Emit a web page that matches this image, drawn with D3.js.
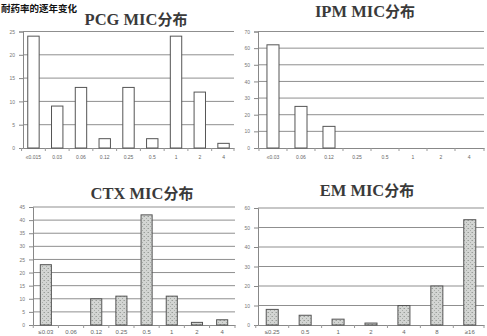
<!DOCTYPE html>
<html><head><meta charset="utf-8">
<script src="https://cdn.jsdelivr.net/npm/d3@7/dist/d3.min.js"></script>
<style>body{margin:0;background:#fff}svg{display:block}</style>
</head><body>
<script>
const headerText = "耐药率的逐年变化";

const pcgCategories = ["≤0.015","0.03","0.06","0.12","0.25","0.5","1","2","4"];
const pcgValues = [24, 9, 13, 2, 13, 2, 24, 12, 1];
const pcgTicks = [0, 5, 10, 15, 20, 25];

const ipmCategories = ["≤0.03","0.06","0.12","0.25","0.5","1","2","4"];
const ipmValues = [62, 25, 13, 0, 0, 0, 0, 0];
const ipmTicks = [0, 10, 20, 30, 40, 50, 60, 70];

const ctxCategories = ["≤0.03","0.06","0.12","0.25","0.5","1","2","4"];
const ctxValues = [23, 0, 10, 11, 42, 11, 1, 2];
const ctxTicks = [0, 5, 10, 15, 20, 25, 30, 35, 40, 45];

const emCategories = ["≤0.25","0.5","1","2","4","8","≥16"];
const emValues = [8, 5, 3, 1, 10, 20, 54];
const emTicks = [0, 10, 20, 30, 40, 50, 60];

const W = 487, H = 336;
const svg = d3.select("body").append("svg").attr("width", W).attr("height", H);

const defs = svg.append("defs");
const pat = defs.append("pattern").attr("id","tex").attr("patternUnits","userSpaceOnUse")
  .attr("width",4).attr("height",4);
pat.append("rect").attr("width",4).attr("height",4).attr("fill","#d3d5d3");
pat.append("rect").attr("x",0).attr("y",0).attr("width",1).attr("height",1).attr("fill","#9a9e9a");
pat.append("rect").attr("x",2).attr("y",2).attr("width",1).attr("height",1).attr("fill","#a8aca8");
pat.append("rect").attr("x",3).attr("y",0).attr("width",1).attr("height",1).attr("fill","#b8bbb8");

svg.append("text").attr("x", 1).attr("y", 11.5)
  .attr("font-family", "'Noto Sans CJK SC', sans-serif").attr("font-weight", "bold")
  .attr("font-size", 9.5).attr("fill", "#111").text(headerText);

const panels = [
  {title:"PCG MIC", cats:pcgCategories, vals:pcgValues, ticks:pcgTicks,
   x0:23, x1:234, yTop:31.5, yBot:148, pi:0.52, po:0.2, tx:136, ty:25, fill:"#fff", lblY:159, lblSize:5},
  {title:"IPM MIC", cats:ipmCategories, vals:ipmValues, ticks:ipmTicks,
   x0:258, x1:484, yTop:31.5, yBot:148, pi:0.57, po:0.32, tx:365, ty:17, fill:"#fff", lblY:159, lblSize:5},
  {title:"CTX MIC", cats:ctxCategories, vals:ctxValues, ticks:ctxTicks,
   x0:33, x1:235, yTop:207, yBot:325, pi:0.56, po:0.29, tx:142, ty:199, fill:"url(#tex)", lblY:334, lblSize:6},
  {title:"EM MIC", cats:emCategories, vals:emValues, ticks:emTicks,
   x0:258, x1:484, yTop:208, yBot:325, pi:0.635, po:0.25, tx:367, ty:196, fill:"url(#tex)", lblY:334, lblSize:6}
];

panels.forEach(p => {
  const g = svg.append("g");
  const x = d3.scaleBand().domain(p.cats).range([p.x0, p.x1]).paddingInner(p.pi).paddingOuter(p.po);
  const y = d3.scaleLinear().domain([0, d3.max(p.ticks)]).range([p.yBot, p.yTop]);

  const t = g.append("text").attr("x", p.tx).attr("y", p.ty).attr("text-anchor","middle")
    .attr("font-size", 16.5).attr("font-weight","bold").attr("fill","#3a3a3a");
  t.append("tspan").attr("font-family","'Liberation Serif','DejaVu Serif',serif").text(p.title);
  t.append("tspan").attr("font-family","'Noto Sans CJK SC',sans-serif").attr("font-size",15).text("分布");

  g.append("g").selectAll("line").data(p.ticks.filter(d => d > 0)).join("line")
    .attr("x1", p.x0).attr("x2", p.x1).attr("y1", d => y(d)).attr("y2", d => y(d))
    .attr("stroke", "#8f8f8f").attr("stroke-width", 1);

  const ya = g.append("g").attr("transform", `translate(${p.x0},0)`)
    .call(d3.axisLeft(y).tickValues(p.ticks).tickSize(4).tickPadding(4));
  ya.select(".domain").attr("stroke","#888");
  ya.selectAll(".tick line").attr("stroke","#888");
  ya.selectAll("text").attr("font-size",5).attr("fill","#777").attr("font-family","'Liberation Sans',sans-serif");

  const xa = g.append("g").attr("transform", `translate(0,${p.yBot})`)
    .call(d3.axisBottom(x).tickSize(0).tickPadding(0).tickFormat(""));
  xa.select(".domain").attr("stroke","#888");
  const bounds = p.cats.map(c => x(c) - x.step()*x.paddingInner()/2).concat([p.x1]);
  g.append("g").selectAll("line").data(bounds).join("line")
    .attr("x1", d => d).attr("x2", d => d).attr("y1", p.yBot).attr("y2", p.yBot + 3)
    .attr("stroke","#999");

  g.append("g").selectAll("text").data(p.cats).join("text")
    .attr("x", d => x(d) + x.bandwidth()/2).attr("y", p.lblY)
    .attr("text-anchor","middle").attr("font-size", p.lblSize).attr("fill","#666")
    .attr("font-family","'Liberation Sans',sans-serif").text(d => d);

  g.append("g").selectAll("rect").data(p.cats.map((c,i)=>({c, v:p.vals[i]})).filter(d => d.v > 0)).join("rect")
    .attr("x", d => x(d.c)).attr("width", x.bandwidth())
    .attr("y", d => y(d.v)).attr("height", d => y(0) - y(d.v))
    .attr("fill", p.fill).attr("stroke", "#555").attr("stroke-width", 1);
});
</script>
</body></html>
